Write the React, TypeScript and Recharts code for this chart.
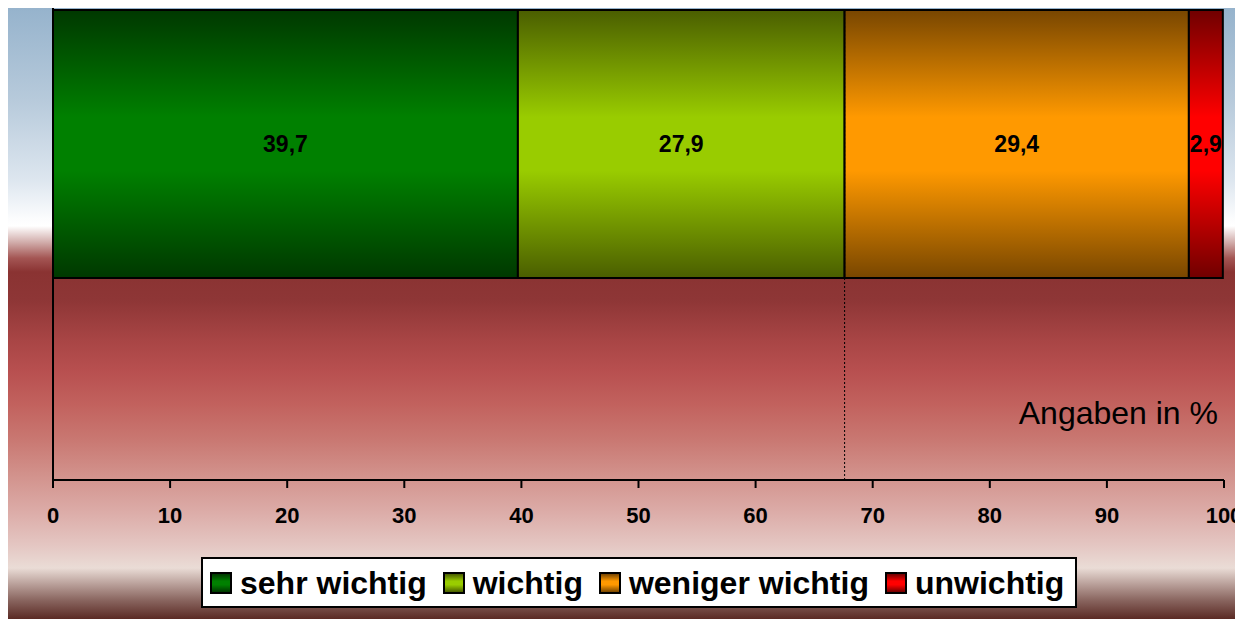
import React from 'react';
import {
  BarChart,
  Bar,
  XAxis,
  YAxis,
  ReferenceLine,
  LabelList,
} from 'recharts';

// values (Angaben in %)
const categories = ['Bewertung'];
const seriesNames = ['sehr wichtig', 'wichtig', 'weniger wichtig', 'unwichtig'];
const seriesValues = [39.7, 27.9, 29.4, 2.9];
const xTicks = [0, 10, 20, 30, 40, 50, 60, 70, 80, 90, 100];

// edge / middle colour of each bar gradient
const SERIES_COLORS = [
  { edge: '#003800', mid: '#008000' },
  { edge: '#4a5e00', mid: '#99cc00' },
  { edge: '#784600', mid: '#ff9900' },
  { edge: '#700000', mid: '#ff0000' },
];

const FONT = '"Liberation Sans", Arial, sans-serif';

const data = categories.map((name) => {
  const row: Record<string, string | number> = { name };
  seriesNames.forEach((s, i) => {
    row[s] = seriesValues[i];
  });
  return row;
});

// dotted line sits at the end of "wichtig"
const splitAt = seriesValues[0] + seriesValues[1];

const fmt = (v: any) => Number(v).toFixed(1).replace('.', ',');

const BACKGROUND =
  'linear-gradient(to bottom, #93b1cb 0px, #b7cadb 100px, #dde6ef 180px, #fbfcfd 218px, #ffffff 226px, #d2aeac 242px, #a45654 258px, #8a3332 272px, #8e3636 300px, #a84545 340px, #b85050 372px, #c2625e 405px, #c97872 440px, #d2928c 475px, #dcaca8 512px, #e4c6c2 545px, #eadcd6 568px, #c0a8a2 582px, #8a6660 600px, #5a2a24 619px)';

export default function App() {
  return (
    <div
      style={{
        position: 'relative',
        width: 1235,
        height: 619,
        marginTop: -8,
        background: BACKGROUND,
        fontFamily: FONT,
        overflow: 'hidden',
      }}
    >
      <BarChart
        width={1235}
        height={619}
        data={data}
        layout="vertical"
        margin={{ top: -193, right: 19, bottom: 99, left: 44 }}
      >
        <defs>
          {SERIES_COLORS.map((c, i) => (
            <linearGradient key={i} id={`grad${i}`} x1="0" y1="0" x2="0" y2="1">
              <stop offset="0%" stopColor={c.edge} />
              <stop offset="40%" stopColor={c.mid} />
              <stop offset="60%" stopColor={c.mid} />
              <stop offset="100%" stopColor={c.edge} />
            </linearGradient>
          ))}
        </defs>
        <XAxis
          type="number"
          domain={[0, 100]}
          ticks={xTicks}
          interval={0}
          height={40}
          axisLine={{ stroke: '#000', strokeWidth: 2 }}
          tickLine={{ stroke: '#000', strokeWidth: 2 }}
          tickSize={8}
          tickMargin={19}
          tick={{ fill: '#000', fontSize: 22, fontWeight: 'bold', fontFamily: FONT }}
        />
        <YAxis
          type="category"
          dataKey="name"
          width={1}
          tick={false}
          tickLine={false}
          axisLine={{ stroke: '#000', strokeWidth: 2 }}
        />
        <ReferenceLine x={splitAt} stroke="#000" strokeWidth={1} strokeDasharray="2 2" />
        {seriesNames.map((s, i) => (
          <Bar
            key={s}
            dataKey={s}
            stackId="a"
            barSize={268}
            fill={`url(#grad${i})`}
            stroke="#000"
            strokeWidth={2}
            isAnimationActive={false}
          >
            <LabelList
              dataKey={s}
              position="center"
              formatter={fmt}
              style={{ fill: '#000', fontSize: 23, fontWeight: 'bold', fontFamily: FONT }}
            />
          </Bar>
        ))}
      </BarChart>

      <div
        style={{
          position: 'absolute',
          right: 1235 - 1210,
          top: 397,
          fontSize: 32,
          lineHeight: 1,
          color: '#000',
          whiteSpace: 'nowrap',
        }}
      >
        Angaben in %
      </div>

      <div
        style={{
          position: 'absolute',
          left: 193,
          top: 557,
          width: 876,
          height: 51,
          boxSizing: 'border-box',
          background: '#fff',
          border: '2px solid #000',
          display: 'flex',
          alignItems: 'center',
          paddingLeft: 7,
          gap: 16,
          whiteSpace: 'nowrap',
        }}
      >
        {seriesNames.map((s, i) => (
          <div key={s} style={{ display: 'flex', alignItems: 'center', gap: 8 }}>
            <span
              style={{
                display: 'inline-block',
                width: 22,
                height: 22,
                boxSizing: 'border-box',
                border: '2px solid #000',
                background: `linear-gradient(to bottom, ${SERIES_COLORS[i].edge}, ${SERIES_COLORS[i].mid} 40%, ${SERIES_COLORS[i].mid} 60%, ${SERIES_COLORS[i].edge})`,
              }}
            />
            <span style={{ fontSize: 32, fontWeight: 'bold', lineHeight: 1, color: '#000' }}>
              {s}
            </span>
          </div>
        ))}
      </div>
    </div>
  );
}
